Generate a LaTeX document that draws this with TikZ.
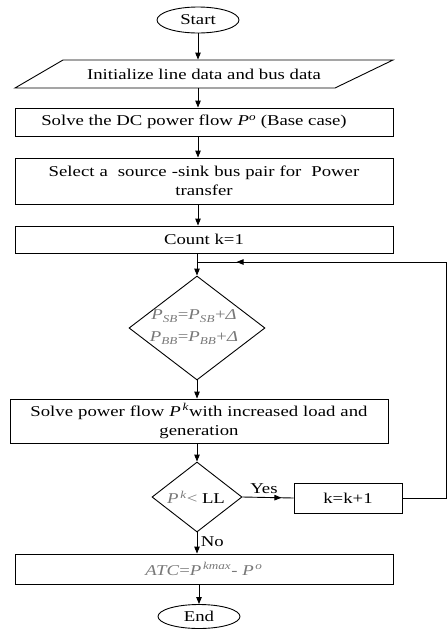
\documentclass[tikz,border=0pt]{standalone}
\usepackage{fontspec}
\setmainfont[FakeStretch=1.25]{Liberation Serif}
\usetikzlibrary{shapes.geometric,arrows.meta,decorations.markings,calc}
\newcommand\Pit{\textit{P}}
\begin{document}
\begin{tikzpicture}[x=1pt,y=-1pt,line width=0.9pt,
  every node/.style={font=\fontsize{15}{19}\selectfont},
  proc/.style={draw,rectangle,inner sep=0pt,align=center,minimum height=#1},
  term/.style={draw,ellipse,inner sep=0pt,minimum width=82pt,minimum height=26pt},
  dec/.style={draw,diamond,inner sep=0pt},
  tip/.style={-{Triangle[length=7pt,width=5.5pt]}},
  midtip/.style={postaction={decorate},decoration={markings,mark=at position #1 with {\arrow{Triangle[length=7pt,width=5.5pt]}}}},
  gtxt/.style={text={rgb,255:red,120;green,120;blue,120}}]
\useasboundingbox (0,0) rectangle (447,630);
% nodes
\node[term] (start) at (198,20) {Start};
\node[minimum width=378pt,minimum height=28pt,inner sep=0pt] (init) at (204,74) {Initialize line data and bus data};
\draw (63,60) -- (393,60) -- (335,88) -- (15,88) -- cycle;
\node[proc=28pt,minimum width=378pt] (b1) at (204,122) {\hspace*{-20pt}Solve the DC power flow \Pit\textsuperscript{\textit{o}} (Base case)};
\node[proc=46pt,minimum width=378pt,text width=378pt] (b2) at (204,181) {Select a\ \ source -sink bus pair for\ \ Power\\transfer};
\node[proc=27pt,minimum width=378pt] (b3) at (204,239.5) {Count k=1};
\node[dec,minimum width=136pt,minimum height=104pt] (d1) at (197,328) {};
\node[gtxt,align=center] (d1t) at (194,327) {\Pit\textsubscript{\textit{SB}}=\Pit\textsubscript{\textit{SB}}+\textit{Δ}\\[3pt]\Pit\textsubscript{\textit{BB}}=\Pit\textsubscript{\textit{BB}}+\textit{Δ}};
\node[proc=44pt,minimum width=378pt,text width=378pt] (b4) at (199,421) {Solve power flow \Pit\textsuperscript{\,\textit{k}}with increased load and\\generation};
\node[dec,minimum width=90pt,minimum height=70pt] (d2) at (197,497) {};
\node (d2t) at (196,497) {\textcolor[RGB]{120,120,120}{\Pit\textsuperscript{\,\textit{k}}<} LL};
\node[proc=30pt,minimum width=108pt] (k) at (348,498) {k=k+1};
\node[proc=30pt,minimum width=378pt] (atc) at (204,569) {\textcolor[RGB]{120,120,120}{\textit{ATC}=\Pit\textsuperscript{\,\textit{kmax}}- \Pit\textsuperscript{\,\textit{o}}}};
\node[term,minimum height=24pt] (end) at (199,616.5) {End};
\coordinate (jn) at (197,262);
\coordinate (rt1) at (446,498);
\coordinate (rt2) at (446,262);
% connectors
\draw[tip] (start.south) -- (start.south |- init.north);
\draw[tip] (start.south |- init.south) -- (start.south |- b1.north);
\draw[tip] (start.south |- b1.south) -- (start.south |- b2.north);
\draw[tip] (start.south |- b2.south) -- (start.south |- b3.north);
\draw[tip] (d1.north |- b3.south) -- (d1.north);
\draw[tip] (d1.south) -- (d1.south |- b4.north);
\draw[tip] (d2.north |- b4.south) -- (d2.north);
\draw[tip] (d2.south) -- node[right,pos=0.45] {No} (d2.south |- atc.north);
\draw[tip] (end.north |- atc.south) -- (end.north);
\draw[midtip=39pt] (d2.east) -- node[above,pos=0.42] {Yes} (k.west);
\draw[midtip=489pt] (k.east) -- (rt1) -- (rt2) -- (jn);
\end{tikzpicture}
\end{document}
